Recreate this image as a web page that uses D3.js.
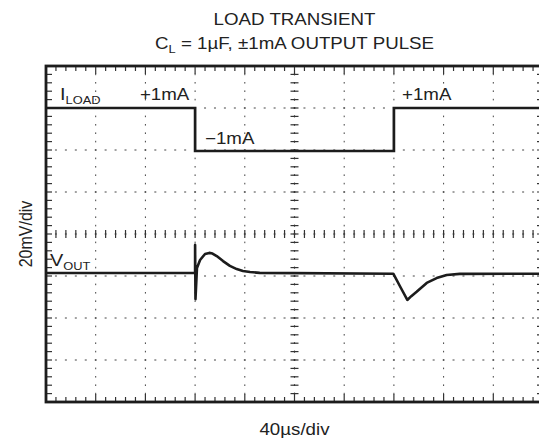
<!DOCTYPE html>
<html>
<head>
<meta charset="utf-8">
<script src="https://cdn.jsdelivr.net/npm/d3@7"></script>
<style>
  body { margin: 0; background: #fff; }
  svg { display: block; font-family: "Liberation Sans", Arial, Helvetica, sans-serif; }
</style>
</head>
<body>
<script>
// scope capture: time in us, VOUT in mV (20mV/div), ILOAD in mA
var iloadTime = [0, 120, 120, 280, 280, 400];
var iloadMA   = [1, 1, -1, -1, 1, 1];

var voutTime = [0, 120, 120, 120.3, 121.5, 124, 128, 131.4, 134, 137.4, 142.5, 148, 153.5, 158.5, 164.2, 172,
                279.5, 285, 290.8, 294, 298.3, 306.4, 314.4, 322.5, 333, 400];
var voutMV   = [-18.6, -18.6, -5.2, -31, -16.2, -12.4, -9.5, -9.0, -9.3, -10.5, -12.9, -15.2, -16.7, -17.6, -18.1, -18.5,
                -18.9, -25.0, -31.4, -29.6, -27.5, -23.3, -21.0, -19.5, -19.0, -18.9];

var titleText = "LOAD TRANSIENT";
var subtitleParts = ["C", "L", " = 1\u00b5F, \u00b11mA OUTPUT PULSE"];
var xLabel = "40\u00b5s/div";
var yLabel = "20mV/div";
var pulseLabels = ["+1mA", "\u22121mA", "+1mA"];

var width = 539, height = 439;
var margin = {top: 66, left: 46, right: -4, bottom: 37};
var stretch = 1.17;   // the scope picture is wider than tall

var x = d3.scaleLinear()
    .domain([0, 400])
    .range([margin.left, width - margin.right]);

var y = d3.scaleLinear()
    .domain([-80, 80])
    .range([height - margin.bottom, margin.top]);

// ILOAD channel sits on its own offset, one division per mA step
var yI = d3.scaleLinear()
    .domain([-1, 1])
    .range([151, 108]);

var svg = d3.select("body").append("svg")
    .attr("width", width)
    .attr("height", height);

var ink = "#1c1c1c";
var xDiv = x(40) - x(0), yDiv = y(0) - y(20);
var x0 = x(0), x1 = x(400), y0 = y(80), y1 = y(-80);

// dotted grid, dots fall on the minor tick positions
var grid = svg.append("g").attr("class", "grid");
grid.selectAll(".vgrid")
    .data(d3.range(40, 400, 40))
  .enter().append("line")
    .attr("x1", d => x(d)).attr("x2", d => x(d))
    .attr("y1", y0).attr("y2", y1)
    .style("stroke", "#444")
    .style("stroke-width", 1)
    .style("stroke-dasharray", "1.6," + (yDiv / 5 - 1.6))
    .style("stroke-dashoffset", 0.8);

grid.selectAll(".hgrid")
    .data(d3.range(-60, 80, 20))
  .enter().append("line")
    .attr("y1", d => y(d)).attr("y2", d => y(d))
    .attr("x1", x0).attr("x2", x1)
    .style("stroke", "#444")
    .style("stroke-width", 1)
    .style("stroke-dasharray", "2," + (xDiv / 5 - 2))
    .style("stroke-dashoffset", 1);

// minor ticks on border and centre axes
var xMinor = d3.range(0, 401, 8), yMinor = d3.range(-80, 81, 4);
var ticks = svg.append("g").attr("class", "ticks")
    .style("stroke", "#333").style("stroke-width", 1.2);

ticks.selectAll(".tt").data(xMinor).enter().append("line")
    .attr("x1", d => x(d)).attr("x2", d => x(d))
    .attr("y1", y0).attr("y2", d => y0 + (d % 40 ? 5 : 8));
ticks.selectAll(".tb").data(xMinor).enter().append("line")
    .attr("x1", d => x(d)).attr("x2", d => x(d))
    .attr("y1", y1).attr("y2", d => y1 - (d % 40 ? 5 : 8));
ticks.selectAll(".tc").data(xMinor).enter().append("line")
    .attr("x1", d => x(d)).attr("x2", d => x(d))
    .attr("y1", y(0) - 4).attr("y2", y(0) + 4);
ticks.selectAll(".tl").data(yMinor).enter().append("line")
    .attr("y1", d => y(d)).attr("y2", d => y(d))
    .attr("x1", x0).attr("x2", x0 + 6);
ticks.selectAll(".tr").data(yMinor).enter().append("line")
    .attr("y1", d => y(d)).attr("y2", d => y(d))
    .attr("x1", x1).attr("x2", x1 - 6);
ticks.selectAll(".tm").data(yMinor).enter().append("line")
    .attr("y1", d => y(d)).attr("y2", d => y(d))
    .attr("x1", x(200) - 4).attr("x2", x(200) + 4);

// centre axes, solid
ticks.append("line")
    .attr("x1", x(200)).attr("x2", x(200)).attr("y1", y0).attr("y2", y1)
    .style("stroke-dasharray", "1.6," + (yDiv / 5 - 1.6)).style("stroke-dashoffset", 0.8);

// frame
svg.append("rect")
    .attr("x", x0).attr("y", y0)
    .attr("width", x1 - x0).attr("height", y1 - y0)
    .style("fill", "none")
    .style("stroke", ink)
    .style("stroke-width", 2.8);

// traces
var iline = d3.line()
    .x(function(d, i) { return x(iloadTime[i]); })
    .y(function(d) { return yI(d); });

var vline = d3.line()
    .x(function(d, i) { return x(voutTime[i]); })
    .y(function(d) { return y(d); });

svg.append("path")
    .datum(iloadMA)
    .attr("d", iline)
    .style("fill", "none").style("stroke", ink)
    .style("stroke-width", 2.7).style("stroke-linejoin", "miter");

svg.append("path")
    .datum(voutMV)
    .attr("d", vline)
    .style("fill", "none").style("stroke", ink)
    .style("stroke-width", 2.6).style("stroke-linejoin", "round");

// text helper: horizontally stretched like the scanned plot
function label(px, py, anchor, parts, rotate) {
  var t = svg.append("text")
      .attr("transform", "translate(" + px + "," + py + ") scale(" + stretch + ",1)" + (rotate ? " rotate(-90)" : ""))
      .style("text-anchor", anchor)
      .style("fill", "#222");
  parts.forEach(function(p) {
    t.append("tspan")
        .attr("dy", p.dy || 0)
        .style("font-size", (p.size || 16) + "px")
        .text(p.text);
  });
  return t;
}

label(x(200), 25, "middle", [{text: titleText}]);
label(x(200), 48.5, "middle", [
  {text: subtitleParts[0]},
  {text: subtitleParts[1], size: 11, dy: 4},
  {text: subtitleParts[2], dy: -4}
]);
label(x(200), 435, "middle", [{text: xLabel}]);
label(32, y(0), "middle", [{text: yLabel}], true);

label(x(11.3), yI(1) - 8, "start", [{text: "I", size: 17}, {text: "LOAD", size: 11, dy: 4}]);
label(x(3.2), y(-15), "start", [{text: "V", size: 17}, {text: "OUT", size: 11, dy: 4}]);

label(x(75.6), yI(1) - 8, "start", [{text: pulseLabels[0]}]);
label(x(128), yI(-1) - 7, "start", [{text: pulseLabels[1]}]);
label(x(286.5), yI(1) - 8, "start", [{text: pulseLabels[2]}]);
</script>
</body>
</html>
